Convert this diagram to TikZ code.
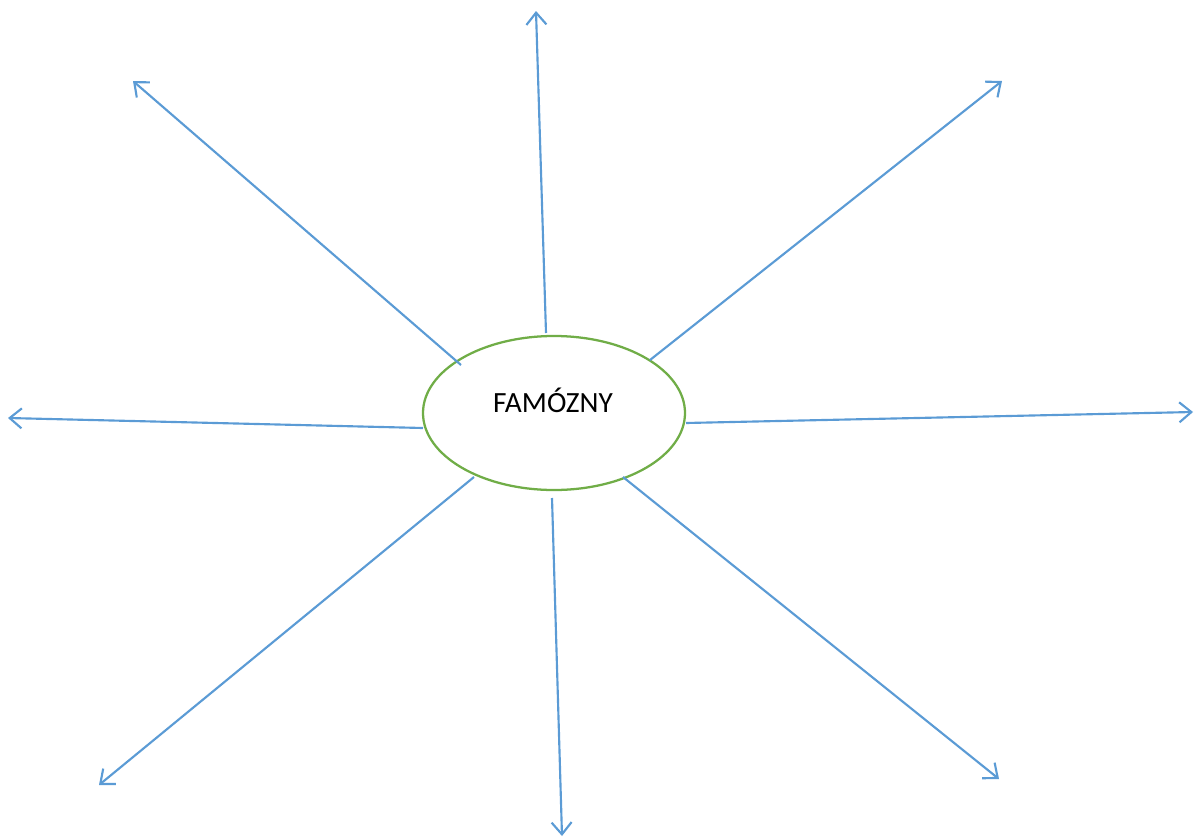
\documentclass[tikz,border=0pt]{standalone}
\usepackage{fontspec}
\setmainfont{Carlito}
\definecolor{rayblue}{RGB}{91,155,213}
\definecolor{ringgreen}{RGB}{112,173,71}
\usetikzlibrary{shapes.geometric,arrows.meta}

\begin{document}
\begin{tikzpicture}[x=0.75pt, y=-0.75pt,
    core/.style={ellipse, draw=ringgreen, line width=1.7pt, fill=white,
                 minimum width=262*0.75pt, minimum height=154*0.75pt, inner sep=0pt},
    ray/.style={-{Straight Barb[length=9pt, width=15pt, line width=1.6pt]},
                rayblue, line width=1.6pt}]
\useasboundingbox (0,0) rectangle (1196,839);

\node[core] (word) at (554,413) {};
\node[font=\fontsize{22}{26}\selectfont] (wordtext) at (553,400) {FAMÓZNY};

% start and end points of the rays
\coordinate (ul-s) at (461,365);  \coordinate (ul-e) at (133,81);
\coordinate (up-s) at (546,333);  \coordinate (up-e) at (536,11);
\coordinate (ur-s) at (650,360);  \coordinate (ur-e) at (1002,81);
\coordinate (rt-s) at (686,423);  \coordinate (rt-e) at (1193,412);
\coordinate (lt-s) at (423,428);  \coordinate (lt-e) at (8,418);
\coordinate (ll-s) at (474,477);  \coordinate (ll-e) at (99,785);
\coordinate (dn-s) at (552,498);  \coordinate (dn-e) at (562,836);
\coordinate (lr-s) at (623,477);  \coordinate (lr-e) at (999,779);

\draw[ray] (ul-s) -- (ul-e);
\draw[ray] (up-s) -- (up-e);
\draw[ray] (ur-s) -- (ur-e);
\draw[ray] (rt-s) -- (rt-e);
\draw[ray] (lt-s) -- (lt-e);
\draw[ray] (ll-s) -- (ll-e);
\draw[ray] (dn-s) -- (dn-e);
\draw[ray] (lr-s) -- (lr-e);
\end{tikzpicture}
\end{document}
